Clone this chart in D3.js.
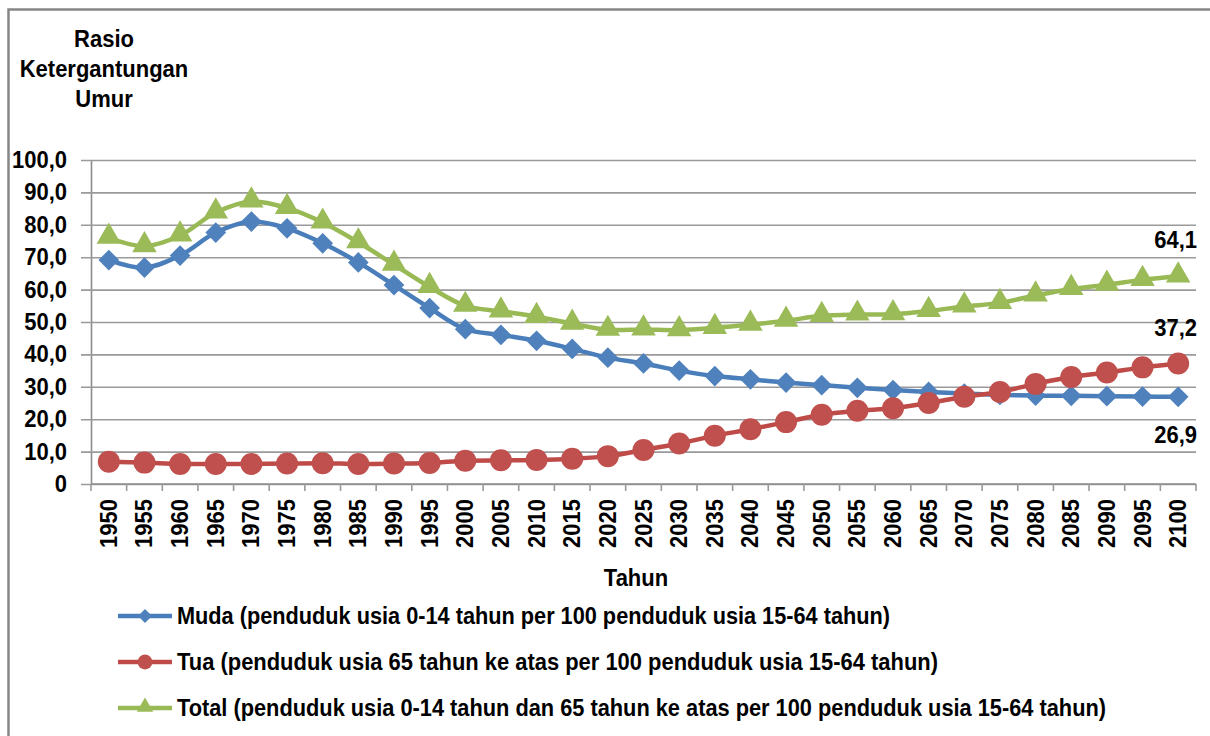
<!DOCTYPE html>
<html>
<head>
<meta charset="utf-8">
<script src="https://cdn.jsdelivr.net/npm/d3@7"></script>
<style>
  html, body { margin: 0; padding: 0; background: #fff; }
  svg { display: block; }
  text { font-family: "Liberation Sans", Arial, sans-serif; font-weight: bold; fill: #000; }
</style>
</head>
<body>
<svg id="chart" width="1210" height="736"></svg>
<script>
// Age dependency ratio, 1950-2100
const years = d3.range(1950, 2101, 5);

const muda = [69.1, 66.8, 70.5, 77.6, 81.0, 78.9, 74.3, 68.4, 61.4, 54.3,
              47.8, 46.0, 44.2, 41.7, 39.0, 37.2, 35.0, 33.3, 32.3, 31.3,
              30.5, 29.7, 29.0, 28.4, 27.9, 27.5, 27.3, 27.2, 27.1, 27.0, 26.9];

const tua = [6.9, 6.6, 6.2, 6.2, 6.2, 6.3, 6.4, 6.2, 6.3, 6.5,
             7.2, 7.3, 7.4, 7.8, 8.6, 10.5, 12.5, 14.9, 16.9, 19.1,
             21.4, 22.6, 23.4, 25.0, 26.9, 28.4, 30.9, 33.0, 34.4, 36.0, 37.2];

const total = [76.0, 73.4, 76.7, 83.8, 87.2, 85.2, 80.7, 74.6, 67.7, 60.8,
               55.0, 53.3, 51.6, 49.5, 47.6, 47.7, 47.5, 48.2, 49.2, 50.4,
               51.9, 52.3, 52.4, 53.4, 54.8, 55.9, 58.2, 60.2, 61.5, 63.0, 64.1];

const yTicks = [0, 10, 20, 30, 40, 50, 60, 70, 80, 90, 100];
const yTickLabels = ["0", "10,0", "20,0", "30,0", "40,0", "50,0", "60,0", "70,0", "80,0", "90,0", "100,0"];

const seriesNames = [
  "Muda (penduduk usia 0-14 tahun per 100 penduduk usia 15-64 tahun)",
  "Tua (penduduk usia 65 tahun ke atas per 100 penduduk usia 15-64 tahun)",
  "Total (penduduk usia 0-14 tahun dan 65 tahun ke atas per 100 penduduk usia 15-64 tahun)"
];
const endLabels = ["26,9", "37,2", "64,1"];
const yTitle = ["Rasio", "Ketergantungan", "Umur"];
const xTitle = "Tahun";

// ---- layout ----
const svg = d3.select("#chart");
const plot = { left: 91, right: 1196, top: 160, bottom: 484 };
const FS = 22;          // base font size
const STRETCH = 1.1;    // tall, condensed lettering

const x = d3.scaleBand().domain(years).range([plot.left, plot.right]);
const cx = d => x(d) + x.bandwidth() / 2;
const y = d3.scaleLinear().domain([0, 100]).range([plot.bottom, plot.top]);

function label(g, txt, tx, ty, anchor, extra) {
  return g.append("text")
    .attr("transform", `translate(${tx},${ty}) ${extra || ""} scale(1,${STRETCH})`)
    .attr("text-anchor", anchor)
    .style("font-size", FS + "px")
    .text(txt);
}

// chart frame
svg.append("rect").attr("width", 1210).attr("height", 736).attr("fill", "#fff");
svg.append("rect")
  .attr("x", 8.5).attr("y", 9.5).attr("width", 1230).attr("height", 760)
  .attr("fill", "none").attr("stroke", "#868686").attr("stroke-width", 2.5);

// y grid + tick labels
const yAxis = d3.axisLeft(y)
  .tickValues(yTicks)
  .tickFormat((d, i) => yTickLabels[i])
  .tickSizeInner(-(plot.right - plot.left))
  .tickSizeOuter(0)
  .tickPadding(24);
const gy = svg.append("g").attr("transform", `translate(${plot.left},0)`).call(yAxis);
gy.select(".domain").attr("stroke", "#8c8c8c").attr("stroke-width", 1.6);
gy.selectAll(".tick line").attr("x1", -10).attr("stroke", "#9a9a9a").attr("stroke-width", 1.6);
gy.selectAll(".tick text").remove();
gy.selectAll(".tick").each(function(d, i) {
  label(d3.select(this), yTickLabels[i], -24, 7.5, "end");
});

// x axis with boundary ticks
const gx = svg.append("g");
gx.append("line")
  .attr("x1", plot.left).attr("x2", plot.right)
  .attr("y1", plot.bottom).attr("y2", plot.bottom)
  .attr("stroke", "#8c8c8c").attr("stroke-width", 1.6);
gx.selectAll("line.xt")
  .data(years.concat([null]))
  .join("line")
  .attr("class", "xt")
  .attr("x1", d => d === null ? plot.right : x(d))
  .attr("x2", d => d === null ? plot.right : x(d))
  .attr("y1", plot.bottom).attr("y2", plot.bottom + 7)
  .attr("stroke", "#9a9a9a").attr("stroke-width", 1.6);
years.forEach(yr => {
  label(gx, String(yr), cx(yr) + 8, plot.bottom + 15, "end", "rotate(-90)");
});

// axis titles
yTitle.forEach((t, i) => label(svg, t, 104, 47 + i * 30, "middle"));
label(svg, xTitle, 636, 586, "middle");

// ---- series ----
const series = [
  { values: muda,  line: "#4a7ebb", fill: "#4f81bd", shape: "diamond" },
  { values: tua,   line: "#be4b48", fill: "#c0504d", shape: "circle" },
  { values: total, line: "#98b954", fill: "#9bbb59", shape: "triangle" }
];

function markerPath(shape, scale) {
  if (shape === "diamond") return d3.symbol(d3.symbolSquare, 215 * scale)();
  if (shape === "circle") return d3.symbol(d3.symbolCircle, 380 * scale)();
  return d3.symbol(d3.symbolTriangle, 260 * scale)();
}

const lineGen = d3.line()
  .x((d, i) => cx(years[i]))
  .y(d => y(d))
  .curve(d3.curveCatmullRom.alpha(0.5));

series.forEach(s => {
  const g = svg.append("g");
  g.append("path")
    .attr("d", lineGen(s.values))
    .attr("fill", "none")
    .attr("stroke", s.line)
    .attr("stroke-width", 4.5)
    .attr("stroke-linejoin", "round");
  g.selectAll("path.m")
    .data(s.values)
    .join("path")
    .attr("class", "m")
    .attr("d", markerPath(s.shape, 1))
    .attr("transform", (d, i) =>
      `translate(${cx(years[i])},${y(d) + (s.shape === "triangle" ? -1 : 0)})` +
      (s.shape === "diamond" ? " rotate(45)" : ""))
    .attr("fill", s.fill);
});

// end-of-series value labels
const endY = [443, 336, 248];
endLabels.forEach((t, i) => label(svg, t, 1197, endY[i], "end"));

// ---- legend ----
const legendY = [616, 662, 708];
const legendWidth = [713, 761, 929];
series.forEach((s, i) => {
  const g = svg.append("g");
  g.append("line")
    .attr("x1", 118).attr("x2", 172)
    .attr("y1", legendY[i]).attr("y2", legendY[i])
    .attr("stroke", s.line).attr("stroke-width", 4.5);
  g.append("path")
    .attr("d", markerPath(s.shape, 0.45))
    .attr("transform", `translate(145,${legendY[i] + (s.shape === "triangle" ? -1 : 0)})` +
      (s.shape === "diamond" ? " rotate(45)" : ""))
    .attr("fill", s.fill);
  label(g, seriesNames[i], 177, legendY[i] + 7.5, "start")
    .attr("textLength", legendWidth[i])
    .attr("lengthAdjust", "spacingAndGlyphs");
});
</script>
</body>
</html>
